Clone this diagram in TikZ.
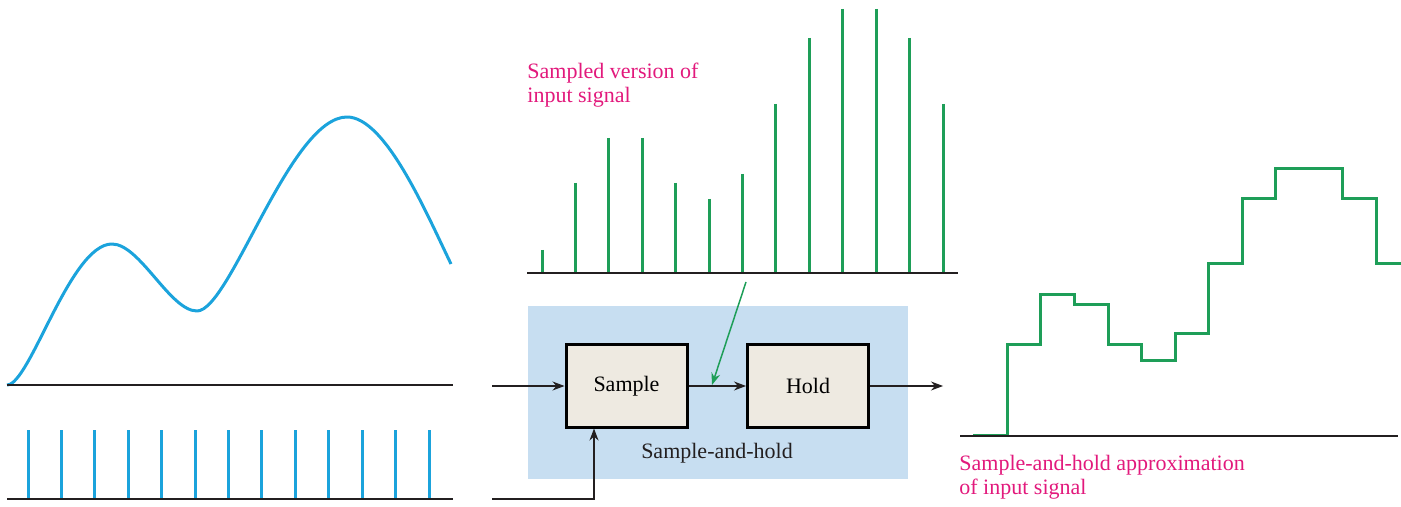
\documentclass[tikz,border=0pt]{standalone}
\usepackage{fontspec}
\setmainfont{Liberation Serif}
\usetikzlibrary{arrows.meta}
\definecolor{sigblue}{HTML}{1BA3DC}
\definecolor{siggreen}{HTML}{1E9E58}
\definecolor{labelmag}{HTML}{E2197C}
\definecolor{shbg}{HTML}{C7DEF1}
\definecolor{boxfill}{HTML}{EEEAE1}
\definecolor{linegray}{HTML}{231F20}
\begin{document}
\begin{tikzpicture}[x=0.5pt,y=-0.5pt,
  axis/.style={draw=linegray, line width=0.75pt},
  bluesig/.style={draw=sigblue, line width=1.5pt},
  greensig/.style={draw=siggreen, line width=1.5pt},
  blockbox/.style={draw=black, line width=1.5pt, fill=boxfill, minimum width=60.5pt, minimum height=41pt, inner sep=0pt, font=\fontsize{11}{13}\selectfont},
  conn/.style={draw=linegray, line width=0.6pt, -{Stealth[length=6pt,width=4.5pt]}},
  tapconn/.style={draw=siggreen, line width=0.75pt, -{Stealth[length=6pt,width=4.5pt]}},
  maglabel/.style={text=labelmag, font=\fontsize{11}{12}\selectfont, align=left, inner sep=0pt, anchor=north west},
  plainlabel/.style={text=linegray, font=\fontsize{11}{13}\selectfont, inner sep=0pt}
]
\useasboundingbox (0,0) rectangle (1401,507);

% ---------- input signal ----------
\draw[bluesig, line join=round] (7,385) .. controls (30,385) and (70,244) .. (112,244)
  .. controls (140,244) and (170,311) .. (197,311)
  .. controls (230,311) and (290,117) .. (347,117)
  .. controls (385,117) and (425,210) .. (451,264);
\draw[axis] (7,385) -- (453,385);

% ---------- sampling pulses ----------
\foreach \i in {0,...,12}
  \draw[bluesig] ({28+33.42*\i},430) -- ({28+33.42*\i},499);
\draw[axis] (7,499) -- (453,499);

% ---------- sampled version ----------
\foreach \yy [count=\i from 0] in {250,183,138,138,183,199,174,104,38,9,9,38,104}
  \draw[greensig] ({542+33.42*\i},\yy) -- ({542+33.42*\i},273);
\draw[axis] (527,273) -- (958,273);
\node[maglabel] (sampledlbl) at (527,63) {Sampled version of\\input signal};

% ---------- sample-and-hold block ----------
\node[fill=shbg, minimum width=190pt, minimum height=86.5pt, inner sep=0pt] (shblock) at (718,392.5) {};
\node[blockbox] (sample) at (626.5,386) {Sample};
\node[blockbox] (hold) at (808,386) {Hold};
\node[plainlabel, anchor=base] (shlbl) at (717,458) {Sample-and-hold};

\coordinate (inp) at (492,386);
\coordinate (clk) at (492,499);
\coordinate (outp) at (943,386);
\coordinate (tapsrc) at (746,282);
\coordinate (tap) at (712,385);

\draw[conn] (inp) -- (sample.west);
\draw[conn] (sample.east) -- (hold.west);
\draw[conn] (hold.east) -- (outp);
\draw[conn] (clk) -| ([xshift=-16.25pt]sample.south);
\draw[tapconn] (tapsrc) -- (tap);

% ---------- sample-and-hold output ----------
\draw[greensig] (973,435) -- (1007,435) -- (1007,345) -- (1040,345) -- (1040,295) -- (1074,295) -- (1074,305) -- (1108,305) -- (1108,345) -- (1141,345) -- (1141,360) -- (1175,360) -- (1175,334) -- (1208,334) -- (1208,264) -- (1242,264) -- (1242,199) -- (1275,199) -- (1275,169) -- (1342,169) -- (1342,199) -- (1376,199) -- (1376,264) -- (1401,264);
\draw[axis] (960,436) -- (1398,436);
\node[maglabel] (shapproxlbl) at (959,455) {Sample-and-hold approximation\\of input signal};
\end{tikzpicture}
\end{document}
